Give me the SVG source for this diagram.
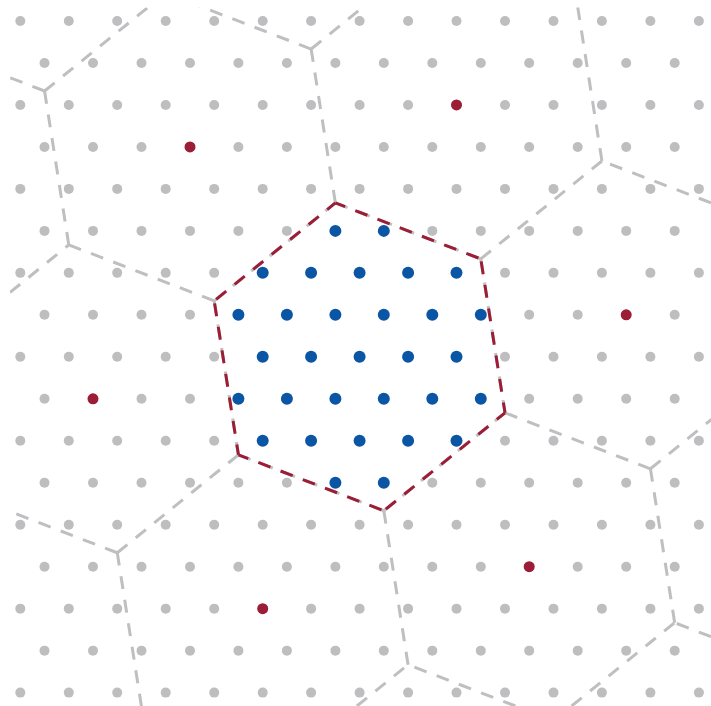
<svg xmlns="http://www.w3.org/2000/svg" width="711" height="706" viewBox="0 0 711 706">
<style>
.edge{stroke:#bfbfc1;stroke-width:3;stroke-dasharray:13 10.8;fill:none}
.cell{stroke:#9b1d36;stroke-width:3;stroke-dasharray:13 10.8;stroke-dashoffset:-2.5;fill:none}
.dot{fill:#bebec0}
.site{fill:#9b1d36}
.in{fill:#0b55a5}
</style>
<defs>
<clipPath id="frame"><rect x="10" y="7.5" width="701" height="698.5"/></clipPath>
<g id="rowE" class="dot">
<circle cx="20.3" cy="0" r="5"/><circle cx="68.8" cy="0" r="5"/><circle cx="117.2" cy="0" r="5"/><circle cx="165.7" cy="0" r="5"/><circle cx="214.2" cy="0" r="5"/><circle cx="262.7" cy="0" r="5"/><circle cx="311.1" cy="0" r="5"/><circle cx="359.6" cy="0" r="5"/><circle cx="408.1" cy="0" r="5"/><circle cx="456.5" cy="0" r="5"/><circle cx="505" cy="0" r="5"/><circle cx="553.5" cy="0" r="5"/><circle cx="601.9" cy="0" r="5"/><circle cx="650.4" cy="0" r="5"/><circle cx="698.9" cy="0" r="5"/>
</g>
<g id="rowO" class="dot">
<circle cx="44.5" cy="0" r="5"/><circle cx="93" cy="0" r="5"/><circle cx="141.5" cy="0" r="5"/><circle cx="190" cy="0" r="5"/><circle cx="238.4" cy="0" r="5"/><circle cx="286.9" cy="0" r="5"/><circle cx="335.4" cy="0" r="5"/><circle cx="383.8" cy="0" r="5"/><circle cx="432.3" cy="0" r="5"/><circle cx="480.8" cy="0" r="5"/><circle cx="529.2" cy="0" r="5"/><circle cx="577.7" cy="0" r="5"/><circle cx="626.2" cy="0" r="5"/><circle cx="674.7" cy="0" r="5"/>
</g>
</defs>
<rect width="711" height="706" fill="#ffffff"/>
<g id="connectors" class="edge" clip-path="url(#frame)">
<line x1="10" y1="292.42" x2="68.8" y2="244.9"/>
<line x1="44.55" y1="91" x2="-100.87" y2="35.03"/>
<line x1="44.55" y1="91" x2="68.78" y2="244.91"/>
<line x1="44.55" y1="91" x2="165.72" y2="-6.95"/>
<line x1="311.14" y1="49.03" x2="165.73" y2="-6.94"/>
<line x1="311.14" y1="49.03" x2="335.37" y2="202.94"/>
<line x1="311.14" y1="49.03" x2="432.31" y2="-48.92"/>
<line x1="577.72" y1="7.05" x2="601.95" y2="160.96"/>
<line x1="214.2" y1="300.89" x2="68.79" y2="244.92"/>
<line x1="214.2" y1="300.89" x2="238.43" y2="454.8"/>
<line x1="214.2" y1="300.89" x2="335.37" y2="202.94"/>
<line x1="480.78" y1="258.91" x2="335.37" y2="202.94"/>
<line x1="480.78" y1="258.91" x2="505.01" y2="412.82"/>
<line x1="480.78" y1="258.91" x2="601.95" y2="160.96"/>
<line x1="711" y1="202.93" x2="601.96" y2="160.96"/>
<line x1="117.26" y1="552.75" x2="-28.16" y2="496.78"/>
<line x1="117.26" y1="552.75" x2="141.49" y2="706.66"/>
<line x1="117.26" y1="552.75" x2="238.43" y2="454.8"/>
<line x1="383.84" y1="510.77" x2="238.43" y2="454.8"/>
<line x1="383.84" y1="510.77" x2="408.07" y2="664.68"/>
<line x1="383.84" y1="510.77" x2="505.01" y2="412.82"/>
<line x1="650.43" y1="468.79" x2="505.02" y2="412.82"/>
<line x1="650.43" y1="468.79" x2="674.66" y2="622.7"/>
<line x1="650.43" y1="468.79" x2="771.6" y2="370.84"/>
<line x1="356.9" y1="706" x2="408.07" y2="664.68"/>
<line x1="515.4" y1="706" x2="408.08" y2="664.68"/>
<line x1="571.6" y1="706" x2="674.66" y2="622.7"/>
<line x1="711" y1="636.7" x2="674.66" y2="622.71"/>
</g>
<g id="central-cell" class="cell">
<line x1="480.78" y1="258.91" x2="335.37" y2="202.94"/>
<line x1="480.78" y1="258.91" x2="505.01" y2="412.82"/>
<line x1="214.2" y1="300.89" x2="238.43" y2="454.8"/>
<line x1="214.2" y1="300.89" x2="335.37" y2="202.94"/>
<line x1="383.84" y1="510.77" x2="238.43" y2="454.8"/>
<line x1="383.84" y1="510.77" x2="505.01" y2="412.82"/>
</g>
<g id="lattice">
<use href="#rowE" y="21"/>
<use href="#rowO" y="62.98"/>
<use href="#rowE" y="104.95"/>
<use href="#rowO" y="146.93"/>
<use href="#rowE" y="188.9"/>
<use href="#rowO" y="230.88"/>
<use href="#rowE" y="272.86"/>
<use href="#rowO" y="314.83"/>
<use href="#rowE" y="356.81"/>
<use href="#rowO" y="398.78"/>
<use href="#rowE" y="440.76"/>
<use href="#rowO" y="482.74"/>
<use href="#rowE" y="524.71"/>
<use href="#rowO" y="566.69"/>
<use href="#rowE" y="608.66"/>
<use href="#rowO" y="650.64"/>
<use href="#rowE" y="692.62"/>
</g>
<g id="supercell-sites" class="site">
<circle cx="456.5" cy="104.95" r="5.5"/>
<circle cx="190" cy="146.93" r="5.5"/>
<circle cx="626.2" cy="314.83" r="5.5"/>
<circle cx="93" cy="398.78" r="5.5"/>
<circle cx="529.2" cy="566.69" r="5.5"/>
<circle cx="262.7" cy="608.66" r="5.5"/>
</g>
<g id="central-sites" class="in">
<circle cx="335.4" cy="230.88" r="6"/><circle cx="383.8" cy="230.88" r="6"/>
<circle cx="262.7" cy="272.86" r="6"/><circle cx="311.1" cy="272.86" r="6"/><circle cx="359.6" cy="272.86" r="6"/><circle cx="408.1" cy="272.86" r="6"/><circle cx="456.5" cy="272.86" r="6"/>
<circle cx="238.4" cy="314.83" r="6"/><circle cx="286.9" cy="314.83" r="6"/><circle cx="335.4" cy="314.83" r="6"/><circle cx="383.8" cy="314.83" r="6"/><circle cx="432.3" cy="314.83" r="6"/><circle cx="480.8" cy="314.83" r="6"/>
<circle cx="262.7" cy="356.81" r="6"/><circle cx="311.1" cy="356.81" r="6"/><circle cx="359.6" cy="356.81" r="6"/><circle cx="408.1" cy="356.81" r="6"/><circle cx="456.5" cy="356.81" r="6"/>
<circle cx="238.4" cy="398.78" r="6"/><circle cx="286.9" cy="398.78" r="6"/><circle cx="335.4" cy="398.78" r="6"/><circle cx="383.8" cy="398.78" r="6"/><circle cx="432.3" cy="398.78" r="6"/><circle cx="480.8" cy="398.78" r="6"/>
<circle cx="262.7" cy="440.76" r="6"/><circle cx="311.1" cy="440.76" r="6"/><circle cx="359.6" cy="440.76" r="6"/><circle cx="408.1" cy="440.76" r="6"/><circle cx="456.5" cy="440.76" r="6"/>
<circle cx="335.4" cy="482.74" r="6"/><circle cx="383.8" cy="482.74" r="6"/>
</g>
</svg>
